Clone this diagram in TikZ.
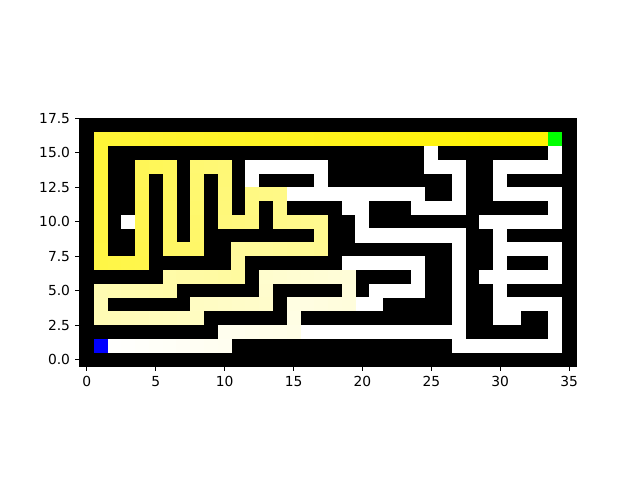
\documentclass[tikz,border=0pt]{standalone}
\usepackage{fontspec}
\setmainfont{DejaVu Sans}

\newcommand{\mazecell}[3]{\fill[#1] (#2-0.51,#3-0.51) rectangle (#2+0.51,#3+0.51);}

\begin{document}
\begin{tikzpicture}[x=0.35cm,y=0.35cm,
  ticmark/.style={line width=0.8pt},
  ticklabel/.style={inner sep=0pt,font=\fontsize{10}{12}\selectfont}]

\useasboundingbox (-6.306,-8.745) rectangle (40.145,26.093);

% Walls
\fill[black] (-0.5,-0.5) rectangle (35.5,17.5);

% Open corridors: row / first col / last col
\foreach \r/\a/\b in {15/25/25, 15/34/34,
    14/12/17, 14/25/27, 14/30/34,
    13/12/12, 13/17/17, 13/27/27, 13/30/30,
    12/15/24, 12/27/27, 12/30/34,
    11/19/20, 11/24/27, 11/34/34,
    10/3/3, 10/20/20, 10/29/34,
    9/20/27, 9/30/30,
    8/27/27, 8/30/34,
    7/19/24, 7/27/27, 7/30/30, 7/34/34,
    6/24/24, 6/27/27, 6/29/34,
    5/21/24, 5/27/27, 5/30/30,
    4/20/21, 4/27/27, 4/30/34,
    3/27/27, 3/30/31, 3/34/34,
    2/16/27, 2/34/34,
    1/27/34}
  \foreach \c in {\a,...,\b} {\mazecell{white}{\c}{\r}}

% Solution path, pale at the start, yellow at the goal
\foreach \c/\r [count=\k] in {2/1,3/1,4/1,5/1,6/1,7/1,8/1,9/1,10/1,
    10/2,11/2,12/2,13/2,14/2,15/2,15/3,15/4,
    16/4,17/4,18/4,19/4,19/5,19/6,
    18/6,17/6,16/6,15/6,14/6,13/6,13/5,13/4,
    12/4,11/4,10/4,9/4,8/4,8/3,
    7/3,6/3,5/3,4/3,3/3,2/3,1/3,1/4,1/5,
    2/5,3/5,4/5,5/5,6/5,6/6,
    7/6,8/6,9/6,10/6,11/6,11/7,11/8,
    12/8,13/8,14/8,15/8,16/8,17/8,17/9,17/10,
    16/10,15/10,14/10,14/11,14/12,13/12,12/12,
    12/11,12/10,11/10,10/10,10/11,10/12,10/13,10/14,
    9/14,8/14,8/13,8/12,8/11,8/10,8/9,8/8,
    7/8,6/8,6/9,6/10,6/11,6/12,6/13,6/14,
    5/14,4/14,4/13,4/12,4/11,4/10,4/9,4/8,4/7,
    3/7,2/7,1/7,1/8,1/9,1/10,1/11,1/12,1/13,1/14,1/15,1/16,
    2/16,3/16,4/16,5/16,6/16,7/16,8/16,9/16,10/16,11/16,
    12/16,13/16,14/16,15/16,16/16,17/16,18/16,19/16,20/16,21/16,
    22/16,23/16,24/16,25/16,26/16,27/16,28/16,29/16,30/16,31/16,
    32/16,33/16} {
  \pgfmathsetmacro{\mix}{100*\k/152}
  \mazecell{yellow!\mix!white}{\c}{\r}
}

% Start and goal
\mazecell{blue}{1}{1}
\mazecell{green}{34}{16}

% Frame and ticks
\draw[ticmark] (-0.5,-0.5) rectangle (35.5,17.5);
\foreach \x in {0,5,...,35} {
  \draw[ticmark] (\x,-0.5) -- ++(0,-3.5pt);
  \node[ticklabel,anchor=north] (xlab\x) at ([yshift=-7pt]\x,-0.5) {\x};
}
\foreach \y/\t [count=\i] in {0/0.0,2.5/2.5,5/5.0,7.5/7.5,10/10.0,12.5/12.5,15/15.0,17.5/17.5} {
  \draw[ticmark] (-0.5,\y) -- ++(-3.5pt,0);
  \node[ticklabel,anchor=east] (ylab\i) at ([xshift=-7pt]-0.5,\y) {\t};
}

\end{tikzpicture}
\end{document}
